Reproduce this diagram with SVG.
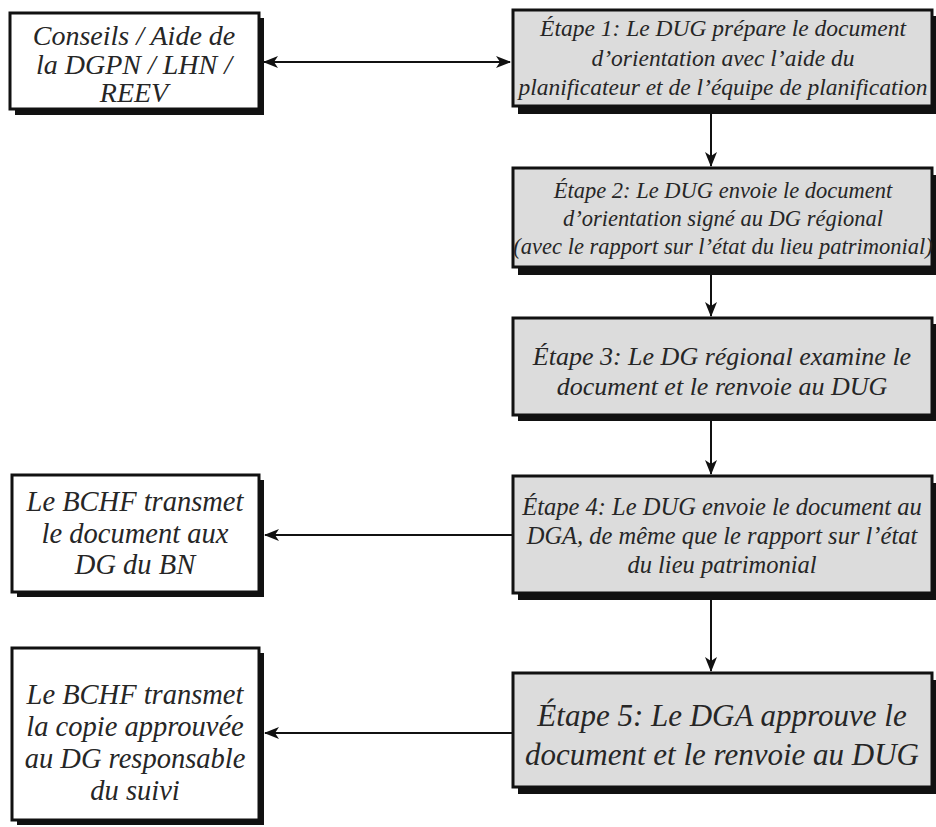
<svg xmlns="http://www.w3.org/2000/svg" width="936" height="827" viewBox="0 0 936 827">
<defs>
<style>
.sh{fill:#111}
.bw{fill:#fff;stroke:#111;stroke-width:3}
.bg{fill:#dcdcdc;stroke:#111;stroke-width:3}
text{font-family:"Liberation Serif","Times New Roman",serif;font-style:italic;fill:#262626;text-anchor:middle}
.c{stroke:#111;stroke-width:2;fill:none}
</style>
<marker id="ah" viewBox="0 0 15 12" refX="14" refY="6" markerWidth="15" markerHeight="12" markerUnits="userSpaceOnUse" orient="auto-start-reverse">
<path d="M0,0 L15,6 L0,12 L4,6 z" fill="#111"/>
</marker>
</defs>
<rect width="936" height="827" fill="#fff"/>
<g id="connectors">
<path class="c" d="M264,62 H510" marker-start="url(#ah)" marker-end="url(#ah)"/>
<path class="c" d="M711,114 V166" marker-end="url(#ah)"/>
<path class="c" d="M711,275 V316" marker-end="url(#ah)"/>
<path class="c" d="M711,421 V474" marker-end="url(#ah)"/>
<path class="c" d="M711,600 V671" marker-end="url(#ah)"/>
<path class="c" d="M512,535 H265" marker-end="url(#ah)"/>
<path class="c" d="M512,733 H265" marker-end="url(#ah)"/>
</g>
<g id="n-conseils">
<rect class="sh" x="15" y="18" width="249" height="97"/>
<rect class="bw" x="10" y="13" width="249" height="96"/>
<text font-size="28"><tspan x="134" y="45">Conseils / Aide de</tspan><tspan x="134" y="74">la DGPN / LHN /</tspan><tspan x="134" y="102">REEV</tspan></text>
</g>
<g id="n-etape1">
<rect class="sh" x="518" y="16" width="420" height="98"/>
<rect class="bg" x="513" y="10" width="419" height="96"/>
<text font-size="23.5"><tspan x="723" y="36">Étape 1: Le DUG prépare le document</tspan><tspan x="723" y="66">d’orientation avec l’aide du</tspan><tspan x="723" y="95">planificateur et de l’équipe de planification</tspan></text>
</g>
<g id="n-etape2">
<rect class="sh" x="518" y="175" width="420" height="100"/>
<rect class="bg" x="513" y="168" width="419" height="99"/>
<text font-size="22.5"><tspan x="723" y="198">Étape 2: Le DUG envoie le document</tspan><tspan x="723" y="226">d’orientation signé au DG régional</tspan><tspan x="723" y="254">(avec le rapport sur l’état du lieu patrimonial)</tspan></text>
</g>
<g id="n-etape3">
<rect class="sh" x="518" y="324" width="420" height="97"/>
<rect class="bg" x="513" y="318" width="419" height="97"/>
<text font-size="26"><tspan x="722" y="365">Étape 3: Le DG régional examine le</tspan><tspan x="722" y="395">document et le renvoie au DUG</tspan></text>
</g>
<g id="n-etape4">
<rect class="sh" x="518" y="483" width="420" height="117"/>
<rect class="bg" x="513" y="476" width="419" height="117"/>
<text font-size="24.5"><tspan x="722" y="515">Étape 4: Le DUG envoie le document au</tspan><tspan x="722" y="544">DGA, de même que le rapport sur l’état</tspan><tspan x="722" y="573">du lieu patrimonial</tspan></text>
</g>
<g id="n-etape5">
<rect class="sh" x="518" y="680" width="420" height="114"/>
<rect class="bg" x="513" y="673" width="419" height="114"/>
<text font-size="31"><tspan x="722" y="726">Étape 5: Le DGA approuve le</tspan><tspan x="722" y="765">document et le renvoie au DUG</tspan></text>
</g>
<g id="n-bn">
<rect class="sh" x="17" y="480" width="247" height="117"/>
<rect class="bw" x="12" y="475" width="247" height="117"/>
<text font-size="28.5"><tspan x="135" y="511">Le BCHF transmet</tspan><tspan x="135" y="543">le document aux</tspan><tspan x="135" y="574">DG du BN</tspan></text>
</g>
<g id="n-suivi">
<rect class="sh" x="17" y="653" width="247" height="172"/>
<rect class="bw" x="12" y="648" width="247" height="172"/>
<text font-size="28.5"><tspan x="135" y="704">Le BCHF transmet</tspan><tspan x="135" y="736">la copie approuvée</tspan><tspan x="135" y="768">au DG responsable</tspan><tspan x="135" y="800">du suivi</tspan></text>
</g>
</svg>
